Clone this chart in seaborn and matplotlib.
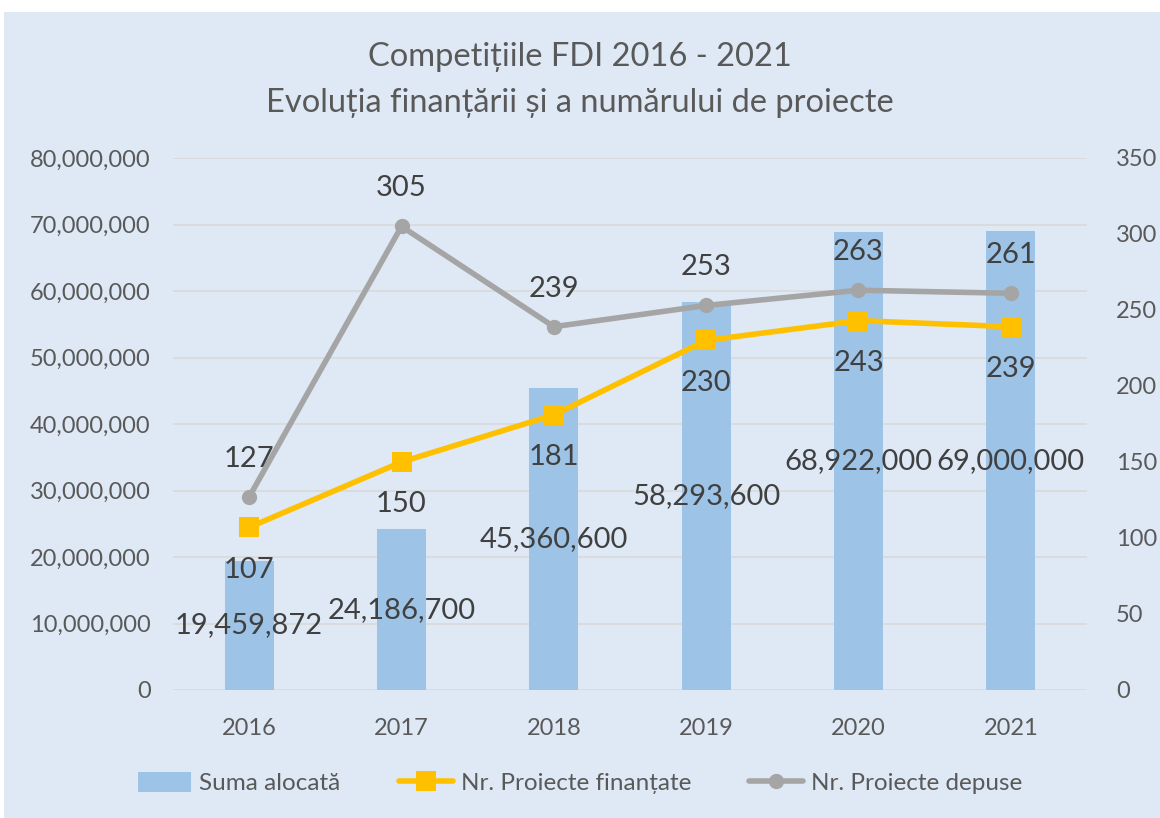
import numpy as np
import pandas as pd
import matplotlib.pyplot as plt
import matplotlib.ticker as mticker
from matplotlib.patches import Patch, Rectangle
from matplotlib.lines import Line2D
import seaborn as sns

years = ["2016", "2017", "2018", "2019", "2020", "2021"]
suma_alocata = [19459872, 24186700, 45360600, 58293600, 68922000, 69000000]
proiecte_finantate = [107, 150, 181, 230, 243, 239]
proiecte_depuse = [127, 305, 239, 253, 263, 261]

BG = "#DEE9F5"
BAR = "#9DC3E6"
YELLOW = "#FFC000"
GREY = "#A5A5A5"
TXT = "#595959"
LBL = "#404040"

sns.set_style("white")
plt.rcParams['font.family'] = ['Lato', 'DejaVu Sans']

df = pd.DataFrame({
    "an": years,
    "suma": suma_alocata,
    "finantate": proiecte_finantate,
    "depuse": proiecte_depuse,
})
df["pos"] = np.arange(len(df))

fig = plt.figure(figsize=(11.6, 8.18), dpi=100)
fig.patch.set_facecolor("white")
fig.patches.append(Rectangle((4 / 1160, 0), 1, 806 / 818, transform=fig.transFigure,
                             facecolor=BG, edgecolor="none", zorder=-10))

ax = fig.add_axes([173 / 1160, (818 - 690) / 818, (1087 - 173) / 1160, (690 - 158) / 818])
ax.set_facecolor("none")

# bars
sns.barplot(data=df, x="an", y="suma", color=BAR, width=0.32, saturation=1,
            linewidth=0, edgecolor="none", ax=ax, zorder=2)
ax.set_ylim(0, 80000000)
ax.set_xlim(-0.5, 5.5)
ax.yaxis.set_major_locator(mticker.MultipleLocator(10000000))
ax.yaxis.set_major_formatter(mticker.FuncFormatter(lambda v, p: f"{int(v):,}"))
ax.grid(axis="y", color="#D9D9D9", linewidth=1.2, zorder=0)
ax.set_axisbelow(True)
for s in ax.spines.values():
    s.set_visible(False)
ax.tick_params(axis="both", length=0, colors=TXT, labelsize=17)
ax.tick_params(axis="y", pad=16)
ax.tick_params(axis="x", pad=20)
ax.set_xlabel("")
ax.set_ylabel("")

for i, v in enumerate(suma_alocata):
    ax.text(i, v / 2, f"{v:,}", ha="center", va="center", fontsize=21, color=LBL, zorder=5)

# lines on secondary axis
ax2 = ax.twinx()
ax2.set_ylim(0, 350)
ax2.yaxis.set_major_locator(mticker.MultipleLocator(50))
sns.lineplot(data=df, x="pos", y="depuse", color=GREY, linewidth=4, marker="o",
             markersize=11, markeredgewidth=0, ax=ax2, zorder=3)
sns.lineplot(data=df, x="pos", y="finantate", color=YELLOW, linewidth=4, marker="s",
             markersize=15, markeredgewidth=0, ax=ax2, zorder=4)
ax2.set_xlim(-0.5, 5.5)
for s in ax2.spines.values():
    s.set_visible(False)
ax2.tick_params(axis="both", length=0, colors=TXT, labelsize=17)
ax2.tick_params(axis="y", pad=21)
ax2.set_xlabel("")
ax2.set_ylabel("")

for i, v in enumerate(proiecte_depuse):
    ax2.annotate(str(v), (i, v), xytext=(0, 18), textcoords="offset points",
                 ha="center", va="bottom", fontsize=21, color=LBL)
for i, v in enumerate(proiecte_finantate):
    ax2.annotate(str(v), (i, v), xytext=(0, -21), textcoords="offset points",
                 ha="center", va="top", fontsize=21, color=LBL)

fig.text(0.5, (818 - 57) / 818, "Competițiile FDI 2016 - 2021", ha="center", va="center",
         fontsize=23.5, color=TXT)
fig.text(0.5, (818 - 103) / 818, "Evoluția finanțării și a numărului de proiecte", ha="center",
         va="center", fontsize=23.5, color=TXT)

handles = [
    Patch(facecolor=BAR, edgecolor="none"),
    Line2D([], [], color=YELLOW, linewidth=4, marker="s", markersize=15, markeredgewidth=0),
    Line2D([], [], color=GREY, linewidth=4, marker="o", markersize=11, markeredgewidth=0),
]
labels = ["Suma alocată", "Nr. Proiecte finanțate", "Nr. Proiecte depuse"]
leg = fig.legend(handles, labels, loc="center", bbox_to_anchor=(0.5, (818 - 783) / 818), ncol=3,
                 frameon=False, fontsize=17.5, labelcolor=TXT, handlelength=2.2,
                 handleheight=0.9, handletextpad=0.33, columnspacing=2.4)

fig.savefig("out.png", dpi=100, facecolor=fig.get_facecolor())
